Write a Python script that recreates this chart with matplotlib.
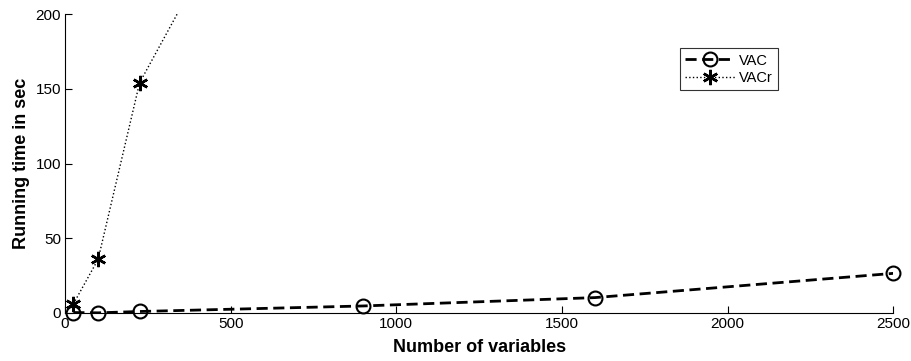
import matplotlib
matplotlib.use('Agg')
from matplotlib import pyplot as plt
from matplotlib.lines import Line2D

# data
vac_x = [25, 100, 225, 900, 1600, 2500]
vac_y = [0.3, 0.1, 1.0, 4.7, 10.3, 26.5]
vacr_x = [25, 100, 225, 400]
vacr_y = [6, 36, 154, 225]

plt.rcParams['font.family'] = ['Liberation Sans', 'DejaVu Sans']

fig = plt.figure(figsize=(9.11, 3.61), dpi=100)
ax = fig.add_axes([0.0714, 0.133, 0.909, 0.828])

vac_style = dict(color='black', linestyle=(0, (4, 2)), linewidth=2)
vac_mark = dict(marker='o', markersize=10, markerfacecolor='none',
                markeredgewidth=1.5, markeredgecolor='black')
vacr_style = dict(color='black', linestyle=':', linewidth=1)
vacr_mark = dict(marker=(6, 2, 0), markersize=11, markeredgewidth=1.8,
                 markeredgecolor='black')

# lines clipped to the axes, markers not
ax.plot(vac_x, vac_y, **vac_style)
ax.plot(vac_x, vac_y, linestyle='none', clip_on=False, **vac_mark)
ax.plot(vacr_x, vacr_y, **vacr_style)
in_view = [(x, y) for x, y in zip(vacr_x, vacr_y) if y <= 200]
ax.plot([p[0] for p in in_view], [p[1] for p in in_view], linestyle='none',
        clip_on=False, **vacr_mark)

ax.set_xlim(0, 2500)
ax.set_ylim(0, 200)
ax.set_xticks([0, 500, 1000, 1500, 2000, 2500])
ax.set_yticks([0, 50, 100, 150, 200])
ax.tick_params(direction='in', length=5, labelsize=11, pad=3)
ax.spines['top'].set_visible(False)
ax.spines['right'].set_visible(False)

ax.set_xlabel('Number of variables', fontsize=13, fontweight='bold', labelpad=6)
ax.set_ylabel('Running time in sec', fontsize=13, fontweight='bold', labelpad=4)

handles = [Line2D([], [], label='VAC', **vac_style, **vac_mark),
           Line2D([], [], label='VACr', **vacr_style, **vacr_mark)]
leg = ax.legend(handles=handles, loc='upper left', bbox_to_anchor=(0.743, 0.885),
                fontsize=10.5, frameon=True, fancybox=False, edgecolor='black',
                handlelength=3.4, handletextpad=0.3, borderpad=0.35,
                labelspacing=0.25, borderaxespad=0)
leg.get_frame().set_linewidth(0.8)

fig.savefig('out.png', dpi=100)
